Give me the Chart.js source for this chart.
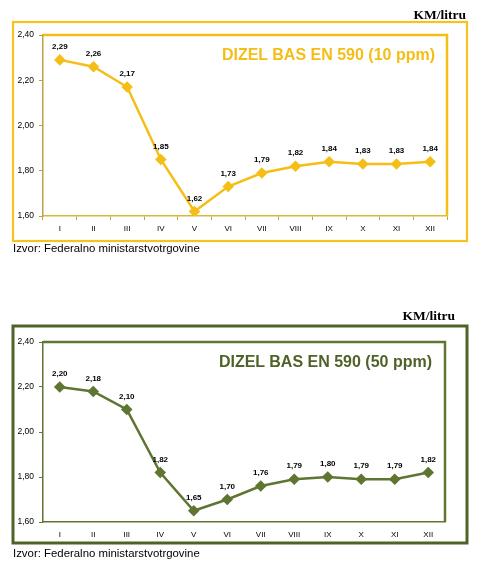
<!DOCTYPE html>
<html><head><meta charset="utf-8">
<script src="https://cdn.jsdelivr.net/npm/chart.js@4.4.1/dist/chart.umd.min.js"></script>
<style>
html,body{margin:0;padding:0;background:#fff;width:481px;height:570px;overflow:hidden;position:relative;font-family:Arial,"Liberation Sans",sans-serif}
.box{position:absolute;left:0;width:481px}
canvas{display:block}
.unit{position:absolute;font-family:"Liberation Serif","Times New Roman",serif;font-weight:bold;font-size:13.5px;line-height:14px;color:#000}
.title{position:absolute;font-family:Arial,"Liberation Sans",sans-serif;font-weight:bold;font-size:16px;line-height:18px;white-space:nowrap}
.src{position:absolute;left:13px;font-size:11.4px;line-height:13px;color:#000;white-space:nowrap}
</style></head>
<body>
<div class="box" style="top:0;height:260px"><canvas id="c1" width="481" height="260"></canvas></div>
<div class="box" style="top:300px;height:270px"><canvas id="c2" width="481" height="270"></canvas></div>
<div class="unit" style="right:15px;top:8px">KM/litru</div>
<div class="unit" style="right:26px;top:309px">KM/litru</div>
<div class="title" style="right:46px;top:46px;color:#F5BE16">DIZEL BAS EN 590 (10 ppm)</div>
<div class="title" style="right:49px;top:353px;color:#4F6228">DIZEL BAS EN 590 (50 ppm)</div>
<div class="src" style="top:242px">Izvor: Federalno ministarstvotrgovine</div>
<div class="src" style="top:547px">Izvor: Federalno ministarstvotrgovine</div>
<script>
const months = ["I","II","III","IV","V","VI","VII","VIII","IX","X","XI","XII"];
const diesel10 = [2.29,2.26,2.17,1.85,1.62,1.73,1.79,1.82,1.84,1.83,1.83,1.84];
const diesel50 = [2.20,2.18,2.10,1.82,1.65,1.70,1.76,1.79,1.80,1.79,1.79,1.82];
const yTicks = [1.6,1.8,2.0,2.2,2.4];

const fmt = v => v.toFixed(2).replace('.', ',');

function framePlugin(frame, frameColor, frameWidth, plotColor, plotWidth){
  return {
    id:'frame',
    beforeDraw(chart){
      const ctx = chart.ctx;
      ctx.save();
      ctx.strokeStyle = frameColor; ctx.lineWidth = frameWidth;
      ctx.strokeRect(frame[0], frame[1], frame[2]-frame[0], frame[3]-frame[1]);
      ctx.restore();
    },
    afterDatasetsDraw(chart){
      const ctx = chart.ctx, a = chart.chartArea;
      ctx.save();
      ctx.strokeStyle = plotColor; ctx.lineWidth = plotWidth;
      ctx.beginPath();
      ctx.moveTo(a.left, a.top); ctx.lineTo(a.right, a.top); ctx.lineTo(a.right, a.bottom);
      ctx.stroke();
      // data labels
      const meta = chart.getDatasetMeta(0);
      const data = chart.data.datasets[0].data;
      ctx.fillStyle = '#000';
      ctx.font = 'bold 8px Arial, "Liberation Sans", sans-serif';
      ctx.textAlign = 'center'; ctx.textBaseline = 'middle';
      meta.data.forEach((p,i)=>{ ctx.fillText(fmt(data[i]), p.x, p.y - 13); });
      ctx.restore();
    }
  };
}

function makeChart(id, values, color, opts){
  return new Chart(document.getElementById(id), {
    type:'line',
    data:{ labels: months, datasets:[{ data: values, borderColor: color, backgroundColor: color,
      borderWidth: 2.5, pointStyle:'rectRot', pointRadius: 4, pointHoverRadius: 4, tension: 0 }]},
    options:{
      responsive:false, animation:false, devicePixelRatio: 1,
      layout:{ padding:{ left: 13, top: opts.top, right: opts.right, bottom: opts.bottom } },
      plugins:{ legend:{display:false}, tooltip:{enabled:false}, title:{display:false} },
      scales:{
        x:{ offset:true,
          grid:{ offset:true, drawOnChartArea:false, drawTicks: opts.xTicks, tickLength:4, color: opts.axisColor },
          border:{ color: opts.bottomColor, width: 1.5 },
          ticks:{ color:'#000', font:{ size:8, family:'Arial, "Liberation Sans", sans-serif' }, padding: opts.xTicks?4:8, maxRotation:0, autoSkip:false },
          afterFit(s){ s.height = 25; }
        },
        y:{ min:1.6, max:2.4,
          afterBuildTicks(s){ s.ticks = yTicks.map(v=>({value:v})); },
          grid:{ drawOnChartArea:false, drawTicks:true, tickLength:4, color: opts.axisColor },
          border:{ color: opts.axisColor, width: 1.5 },
          ticks:{ color:'#000', font:{ size:8.5, family:'Arial, "Liberation Sans", sans-serif' }, padding:5, callback: v => fmt(v) },
          afterFit(s){ s.width = 30; }
        }
      }
    },
    plugins:[ framePlugin(opts.frame, opts.frameColor, opts.frameWidth, color, 2.5) ]
  });
}

makeChart('c1', diesel10, '#F5BE16', {
  top:35, right:34, bottom: 260-216-25, xTicks:true,
  axisColor:'#B9A347', bottomColor:'#D9B938',
  frame:[13,22,467,241], frameColor:'#F5C21E', frameWidth:2.2
});
makeChart('c2', diesel50, '#5F7532', {
  top:42, right:36, bottom: 270-222-25, xTicks:false,
  axisColor:'#5F7532', bottomColor:'#5F7532',
  frame:[13,26,467,243], frameColor:'#4F6228', frameWidth:3
});
</script>
</body></html>
